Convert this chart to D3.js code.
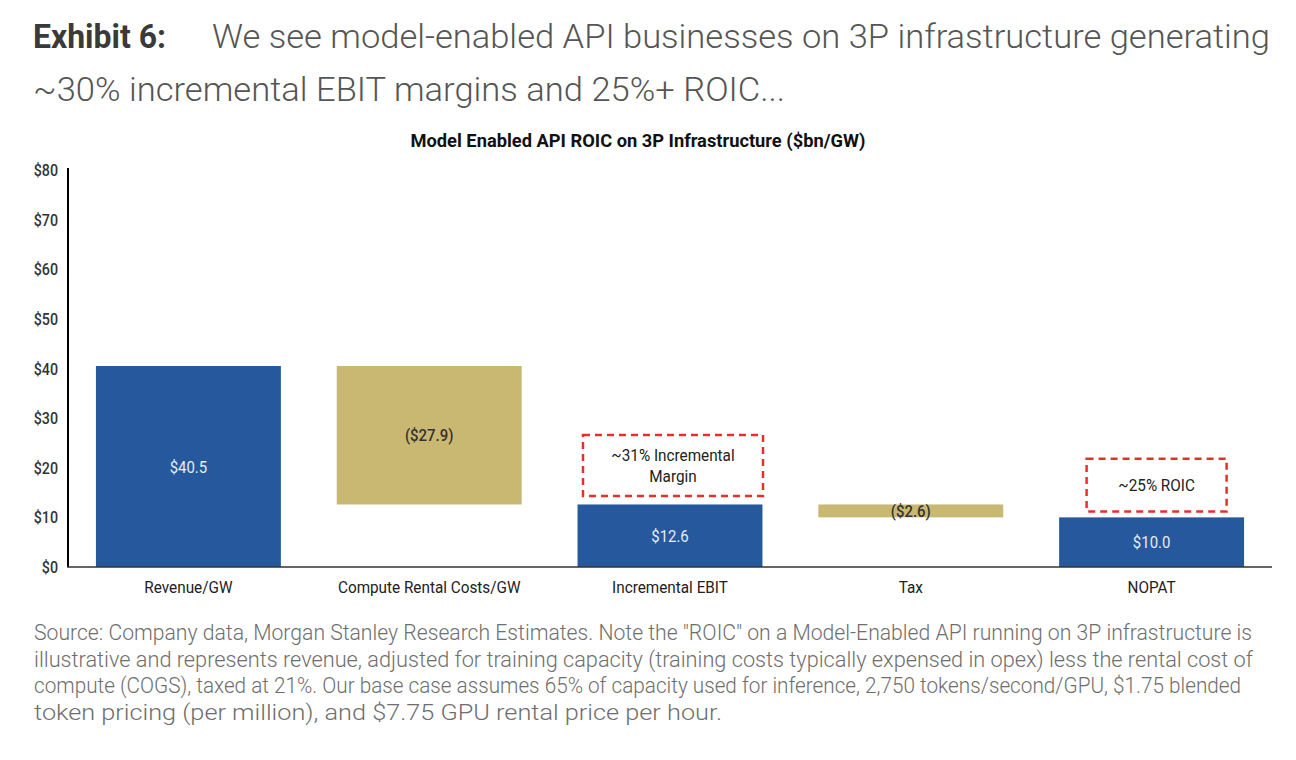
<!DOCTYPE html>
<html><head><meta charset="utf-8">
<script src="https://cdn.jsdelivr.net/npm/d3@7"></script>
<style>
body{margin:0;background:#fff;}
text{font-family:Roboto,"Noto Sans",sans-serif;}
</style></head>
<body><svg id="c" width="1296" height="760"></svg>
<script>
const categories = ["Revenue/GW","Compute Rental Costs/GW","Incremental EBIT","Tax","NOPAT"];
const starts = [0, 40.5, 0, 12.6, 0];
const ends = [40.5, 12.6, 12.6, 10.0, 10.0];
const valueLabels = ["$40.5","($27.9)","$12.6","($2.6)","$10.0"];
const barKinds = ["total","decrease","total","decrease","total"];
const yTicks = [0,10,20,30,40,50,60,70,80];
const annotations = [
  {cat:"Incremental EBIT", lines:["~31% Incremental","Margin"], lo:14.3, hi:26.6},
  {cat:"NOPAT", lines:["~25% ROIC"], lo:11.2, hi:21.8}
];
const footer = [
 'Source: Company data, Morgan Stanley Research Estimates. Note the "ROIC" on a Model-Enabled API running on 3P infrastructure is',
 'illustrative and represents revenue, adjusted for training capacity (training costs typically expensed in opex) less the rental cost of',
 'compute (COGS), taxed at 21%. Our base case assumes 65% of capacity used for inference, 2,750 tokens/second/GPU, $1.75 blended',
 'token pricing (per million), and $7.75 GPU rental price per hour.'
];
const footerW = [1218, 1219, 1207, 688];

const svg = d3.select("#c");
const colors = {total:"#25589d", decrease:"#c9b872"};

// Headline
svg.append("text").attr("x",33).attr("y",48).attr("font-size",33).attr("font-weight",700).attr("fill","#3a3a3a")
  .attr("textLength",133).attr("lengthAdjust","spacingAndGlyphs").text("Exhibit 6:");
svg.append("text").attr("x",212).attr("y",48).attr("font-size",34).attr("font-weight",300).attr("fill","#555")
  .attr("textLength",1058).attr("lengthAdjust","spacingAndGlyphs")
  .text("We see model-enabled API businesses on 3P infrastructure generating");
svg.append("text").attr("x",33).attr("y",101).attr("font-size",34).attr("font-weight",300).attr("fill","#555")
  .attr("textLength",752).attr("lengthAdjust","spacingAndGlyphs")
  .text("~30% incremental EBIT margins and 25%+ ROIC...");

// Chart title
svg.append("text").attr("x",638).attr("y",147).attr("text-anchor","middle").attr("font-size",18.5).attr("font-weight",700)
  .attr("fill","#111").attr("textLength",455).attr("lengthAdjust","spacingAndGlyphs")
  .text("Model Enabled API ROIC on 3P Infrastructure ($bn/GW)");

const x = d3.scaleBand().domain(categories).range([68,1272]).paddingInner(0.232).paddingOuter(0.116);
const y = d3.scaleLinear().domain([0,80]).range([567,170]);

// bars
const g = svg.append("g");
categories.forEach((c,i)=>{
  const top = Math.max(starts[i],ends[i]), bot = Math.min(starts[i],ends[i]);
  g.append("rect").attr("x",x(c)).attr("width",x.bandwidth())
   .attr("y",y(top)).attr("height",y(bot)-y(top)).attr("fill",colors[barKinds[i]]);
  const mid = (top+bot)/2;
  const cx = x(c)+x.bandwidth()/2;
  g.append("text").attr("transform",`translate(${cx},${y(mid)+6}) scale(0.88,1)`)
   .attr("text-anchor","middle").attr("font-size",17)
   .attr("fill", barKinds[i]==="total" ? "#e6ecf5" : "#333")
   .attr("font-weight", barKinds[i]==="total" ? 400 : 500)
   .text(valueLabels[i]);
});

// axes
svg.append("line").attr("x1",68).attr("x2",68).attr("y1",y(80)-2).attr("y2",y(0)).attr("stroke","#000").attr("stroke-width",2);
svg.append("line").attr("x1",67).attr("x2",1272).attr("y1",y(0)).attr("y2",y(0)).attr("stroke","#333").attr("stroke-width",1.5);
yTicks.forEach(v=>{
  svg.append("text").attr("transform",`translate(58,${y(v)+6}) scale(0.84,1)`).attr("text-anchor","end")
   .attr("font-size",17).attr("font-weight",500).attr("fill","#333").text("$"+v);
});
categories.forEach(c=>{
  svg.append("text").attr("transform",`translate(${x(c)+x.bandwidth()/2},${y(0)+26}) scale(0.9,1)`).attr("text-anchor","middle")
   .attr("font-size",17).attr("fill","#222").text(c);
});

// annotations
annotations.forEach(a=>{
  const bw = a.cat==="NOPAT" ? 140 : 180;
  const cx = x(a.cat)+x.bandwidth()/2 + (a.cat==="NOPAT" ? 5 : 3);
  svg.append("rect").attr("x",cx-bw/2).attr("width",bw).attr("y",y(a.hi)).attr("height",y(a.lo)-y(a.hi))
   .attr("fill","none").attr("stroke","#e8302a").attr("stroke-width",2.5).attr("stroke-dasharray","7,5");
  const midY = (y(a.hi)+y(a.lo))/2;
  a.lines.forEach((ln,j)=>{
    const yy = midY + (j-(a.lines.length-1)/2)*21 + 6;
    svg.append("text").attr("transform",`translate(${cx},${yy}) scale(0.9,1)`).attr("text-anchor","middle")
     .attr("font-size",17).attr("fill","#222").text(ln);
  });
});

// footer
footer.forEach((ln,i)=>{
  svg.append("text").attr("x",34).attr("y",640+i*26.7).attr("font-size",21.5).attr("font-weight",300).attr("fill","#6e6e6e")
   .attr("textLength",footerW[i]).attr("lengthAdjust","spacingAndGlyphs").text(ln);
});
</script></body></html>
